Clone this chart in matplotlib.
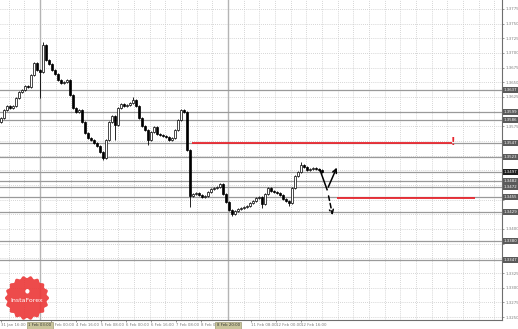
import numpy as np
import matplotlib.pyplot as plt
from matplotlib.patches import Polygon
import matplotlib.transforms as mtransforms

# precos de fechamento (um candle a cada ~2 h)
closes = [1.3589, 1.3603, 1.3610, 1.3606, 1.3610, 1.3623, 1.3634, 1.3637, 1.3644, 1.3642,
          1.3662, 1.3683, 1.3671, 1.3668, 1.3714, 1.3688, 1.3681, 1.3671, 1.3664, 1.3654,
          1.3649, 1.3651, 1.3654, 1.3628, 1.3606, 1.3599, 1.3603, 1.3582, 1.3564, 1.3555,
          1.3552, 1.3547, 1.3541, 1.3531, 1.3521, 1.3552, 1.3582, 1.3593, 1.3577, 1.3606,
          1.3613, 1.3610, 1.3611, 1.3615, 1.3620, 1.3610, 1.3589, 1.3576, 1.3569, 1.3552,
          1.3565, 1.3574, 1.3562, 1.3560, 1.3558, 1.3557, 1.3552, 1.3555, 1.3569, 1.3586,
          1.3603, 1.3599, 1.3535, 1.3456, 1.3460, 1.3461, 1.3458, 1.3455, 1.3456, 1.3463,
          1.3468, 1.3470, 1.3472, 1.3477, 1.3460, 1.3446, 1.3432, 1.3426, 1.3431, 1.3434,
          1.3436, 1.3437, 1.3439, 1.3444, 1.3448, 1.3453, 1.3455, 1.3443, 1.3460, 1.3470,
          1.3465, 1.3463, 1.3461, 1.3458, 1.3451, 1.3448, 1.3444, 1.3470, 1.3490, 1.3497,
          1.3509, 1.3506, 1.3501, 1.3502, 1.3504, 1.3502, 1.3501, 1.3497]
first_open = 1.3582
highs_extra = {14: 1.3719, 44: 1.3625, 100: 1.3514}
lows_extra = {13: 1.3623, 34: 1.3518, 38: 1.3552, 49: 1.3543, 63: 1.3437,
              77: 1.3422, 87: 1.3436, 96: 1.3439}

levels = [1.3637, 1.3599, 1.3586, 1.3547, 1.3523, 1.3497, 1.3482, 1.3472,
          1.3455, 1.3429, 1.3380, 1.3347]
level_dark = 1.3497
red_levels = [(1.3547, 63.7, 150.3), (1.3453, 112.0, 158.0)]

yticks = [round(1.3775 - 0.0025 * k, 4) for k in range(22)]
xlabels = ["31 Jan 16:00", "1 Feb 08:00", "2 Feb 00:00", "4 Feb 16:00", "5 Feb 08:00",
           "6 Feb 00:00", "6 Feb 16:00", "7 Feb 08:00", "8 Feb 00:00", "8 Feb 16:00",
           "11 Feb 08:00", "12 Feb 00:00", "12 Feb 16:00"]
sep_labels = [(13.0, "1 Feb 03:00"), (75.7, "8 Feb 20:00")]

# previsao (setas)
up_path_x = [106.3, 108.7, 112.3]
up_path_y = [1.3501, 1.3467, 1.3509]
down_path_x = [109.0, 110.7]
down_path_y = [1.3461, 1.3419]

W, H = 518, 329
YMIN, YMAX = 1.32449, 1.37903
fig = plt.figure(figsize=(W / 100, H / 100), dpi=100)
ax = fig.add_axes([0, 9 / H, 502 / W, 320 / H])
ax.set_xlim(-1 / 3, 167)
ax.set_ylim(YMIN, YMAX)

# grade pontilhada
for k in range(-3, 31):
    xp = 40 + k * 188 / 12
    if 0 < xp < 502:
        ax.axvline((xp - 1) / 3, color='#c8c8c8', lw=0.6, ls=(0, (1, 1.5)), zorder=0)
for t in yticks:
    ax.axhline(t, color='#c8c8c8', lw=0.6, ls=(0, (1, 1.5)), zorder=0)

# separadores verticais
for xi, _ in sep_labels:
    ax.axvline(xi, color='#b4b4b4', lw=1.0, zorder=1)

# niveis cinza
for lv in levels:
    ax.axhline(lv, color='#9a9a9a', lw=0.9, zorder=1)

# candles
opens = [first_open] + closes[:-1]
wick = 0.0002
for i, (o, c) in enumerate(zip(opens, closes)):
    hi = highs_extra.get(i, max(o, c) + wick)
    lo = lows_extra.get(i, min(o, c) - wick)
    ax.vlines(i, lo, hi, color='black', lw=0.6, zorder=3)
    bull = c >= o
    h = abs(c - o) if abs(c - o) > 0.00005 else 0.00005
    ax.bar(i, h, bottom=min(o, c), width=0.7,
           color='white' if bull else 'black', edgecolor='black', lw=0.5, zorder=4)

# linhas vermelhas
for lv, x0, x1 in red_levels:
    ax.hlines(lv, x0, x1, color='#e8262e', lw=1.3, zorder=5)
ax.text(150.7, 1.3549, "!", color='#e8262e', fontsize=7, ha='center', va='center',
        fontweight='bold', zorder=6)

# setas de previsao
ax.plot(up_path_x[:2], up_path_y[:2], color='black', lw=1.1, zorder=6)
ax.annotate("", xy=(up_path_x[2], up_path_y[2]), xytext=(up_path_x[1], up_path_y[1]),
            arrowprops=dict(arrowstyle='->', color='black', lw=1.1,
                            mutation_scale=7), zorder=6)
ax.annotate("", xy=(down_path_x[1], down_path_y[1]), xytext=(down_path_x[0], down_path_y[0]),
            arrowprops=dict(arrowstyle='->', color='black', lw=1.1, ls=(0, (3, 2)),
                            mutation_scale=7), zorder=6)

# eixos
for s in ['top', 'left']:
    ax.spines[s].set_visible(False)
for s in ['right', 'bottom']:
    ax.spines[s].set_color('#6e6e6e')
    ax.spines[s].set_linewidth(0.8)

# rotulos de preco que ficam escondidos atras das caixas dos niveis
px_per_unit = 320 / (YMAX - YMIN)
shown = [t for t in yticks if min(abs(t - lv) for lv in levels) * px_per_unit > 6]
ax.yaxis.tick_right()
ax.set_yticks(shown)
ax.set_yticklabels([f"{t:.4f}" for t in shown])
ax.tick_params(axis='y', length=1.5, width=0.5, color='#6e6e6e', labelsize=2.8,
               labelcolor='#7a7a7a', pad=1.0)
ax.set_yticks(yticks, minor=True)
ax.tick_params(axis='y', which='minor', length=1.5, width=0.5, color='#6e6e6e',
               labelright=False)

hidden_x = {1, 9}
xt = [k * 25 / 3 for k in range(len(xlabels)) if k not in hidden_x]
ax.set_xticks(xt)
ax.set_xticklabels([lab for k, lab in enumerate(xlabels) if k not in hidden_x])
ax.tick_params(axis='x', length=1.5, width=0.5, color='#6e6e6e', labelsize=2.8,
               labelcolor='#7a7a7a', pad=1.0)
for lab in ax.get_xticklabels():
    lab.set_ha('left')

# caixas dos niveis no eixo direito
trans_y = mtransforms.blended_transform_factory(ax.transAxes, ax.transData)
for lv in levels:
    fc = '#1e1e1e' if lv == level_dark else '#5a5a5a'
    ax.text(1.004, lv, f"{lv:.4f}", transform=trans_y, fontsize=2.8, color='white',
            ha='left', va='center', clip_on=False, zorder=10,
            bbox=dict(boxstyle='square,pad=0.3', fc=fc, ec='none'))

# caixas de data dos separadores
trans_x = mtransforms.blended_transform_factory(ax.transData, ax.transAxes)
for xi, txt in sep_labels:
    ax.text(xi, -0.017, txt, transform=trans_x, fontsize=2.8, color='#333333',
            ha='center', va='center', clip_on=False, zorder=10,
            bbox=dict(boxstyle='square,pad=0.35', fc='#c9c59c', ec='#8d8a60', lw=0.4))

# logo InstaForex
cx, cy, R = 27 / W, 1 - 298 / H, 21
th = np.linspace(0, 2 * np.pi, 400)
rr = R * (1 + 0.05 * np.cos(18 * th))
pts = np.column_stack([cx + rr * np.cos(th) / W, cy + rr * np.sin(th) / H])
logo = Polygon(pts, closed=True, transform=fig.transFigure, fc='#ec3b3b', ec='none',
               alpha=0.92, zorder=20)
fig.patches.append(logo)
fig.text(cx, cy + 7 / H, "\u25cf", color='white', fontsize=4, ha='center', va='center',
         zorder=21)
fig.text(cx, cy - 2 / H, "InstaForex", color='white', fontsize=4.5, ha='center',
         va='center', zorder=21)

fig.savefig("out.png", dpi=100, facecolor='white')
